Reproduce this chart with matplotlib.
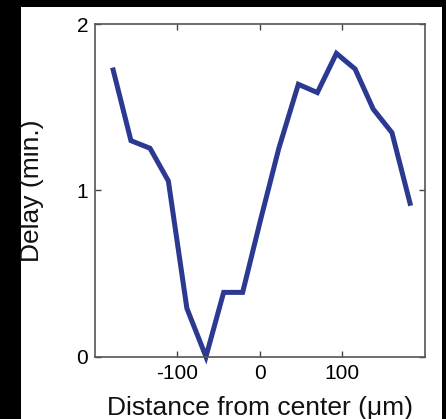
import matplotlib
matplotlib.use("Agg")
import matplotlib.pyplot as plt
from matplotlib.patches import Rectangle

plt.rcParams['font.family'] = ['Liberation Sans', 'DejaVu Sans']

# Delay profile across the tissue
distance_um = [-177.4, -155.9, -132.8, -110.6, -88.2, -65.1, -43.7, -20.7,
               0.9, 23.1, 46.7, 69.7, 92.8, 115.4, 137.3, 160.0, 181.9]
delay_min = [1.725, 1.30, 1.254, 1.057, 0.291, 0.0, 0.387, 0.387,
             0.822, 1.254, 1.639, 1.589, 1.825, 1.731, 1.49, 1.348, 0.923]

x_ticks = [-100, 0, 100]
y_ticks = [0, 1, 2]

W, H = 446, 419
fig = plt.figure(figsize=(W / 100, H / 100), dpi=100, facecolor='black')
# white panel inside the black frame
fig.patches.append(Rectangle((21 / W, 0), (442 - 21) / W, (H - 6.7) / H,
                             transform=fig.transFigure, facecolor='white',
                             edgecolor='none', zorder=-10))

ax_left, ax_right, ax_top, ax_bottom = 94.5, 425.0, 24.3, 356.7
ax = fig.add_axes([ax_left / W, (H - ax_bottom) / H,
                   (ax_right - ax_left) / W, (ax_bottom - ax_top) / H])
ax.set_zorder(1)
ax.set_facecolor('white')
ax.plot(distance_um, delay_min, color='#2B3990', linewidth=3.6,
        solid_joinstyle='miter', clip_on=False)

ax.set_xlim(-200, 200)
ax.set_ylim(0, 2)
ax.set_xticks(x_ticks)
ax.set_yticks(y_ticks)
ax.set_xticklabels([str(v) for v in x_ticks])
ax.set_yticklabels([str(v) for v in y_ticks])
ax.tick_params(direction='in', length=4, width=1, color='#444444',
               labelsize=15, top=True, right=True)
ax.tick_params(axis='x', pad=5.5)
ax.tick_params(axis='y', pad=4.5)
for s in ax.spines.values():
    s.set_color('#555555')
    s.set_linewidth(1.2)

ax.set_xlabel('Distance from center (\u03bcm)', fontsize=19, color='#111111')
ax.set_ylabel('Delay (min.)', fontsize=19, color='#111111')
ax.xaxis.label.set_va('baseline')
ax.yaxis.label.set_va('baseline')
ax.xaxis.set_label_coords(0.5, (ax_bottom - 415) / (ax_bottom - ax_top))
ax.yaxis.set_label_coords((39 - ax_left) / (ax_right - ax_left), 0.5)

fig.savefig('out.png', dpi=100, facecolor='black')
